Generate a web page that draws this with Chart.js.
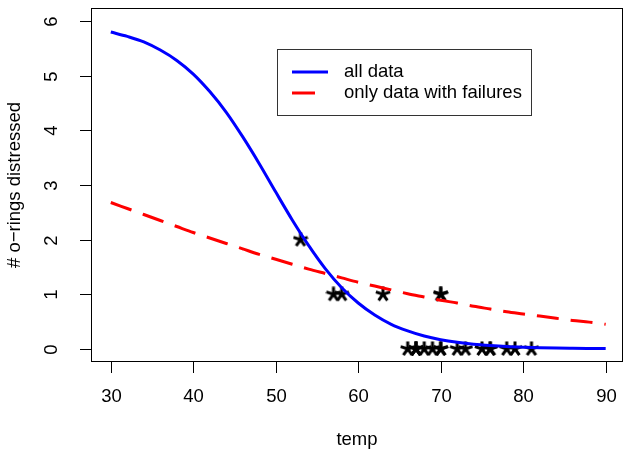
<!DOCTYPE html>
<html>
<head>
<meta charset="utf-8">
<script src="https://cdn.jsdelivr.net/npm/chart.js@4/dist/chart.umd.min.js"></script>
<style>
  html, body { margin: 0; padding: 0; background: #fff; }
</style>
</head>
<body>
<canvas id="c" width="624" height="451"></canvas>
<script>
// fitted curves, every 2 degrees
const curveTemps = [30, 32, 34, 36, 38, 40, 42, 44, 46, 48, 50, 52, 54, 56, 58, 60,
                    62, 64, 66, 68, 70, 72, 74, 76, 78, 80, 82, 84, 86, 88, 90];
const allDataFit = [5.80, 5.72, 5.62, 5.47, 5.28, 5.03, 4.71, 4.33, 3.88, 3.39, 2.87,
                    2.36, 1.89, 1.47, 1.12, 0.84, 0.62, 0.45, 0.33, 0.235, 0.168, 0.12,
                    0.085, 0.061, 0.043, 0.031, 0.022, 0.015, 0.011, 0.008, 0.005];
const failuresFit = [2.68, 2.57, 2.46, 2.35, 2.24, 2.13, 2.03, 1.93, 1.83, 1.73, 1.64,
                     1.55, 1.46, 1.38, 1.30, 1.22, 1.15, 1.08, 1.01, 0.95, 0.89, 0.84,
                     0.78, 0.73, 0.68, 0.64, 0.60, 0.56, 0.52, 0.49, 0.45];

// observed flights
const obsTemps = [53, 57, 58, 63, 70, 70, 66, 67, 67, 67, 68, 69, 70, 70, 72, 73, 75, 76, 76, 78, 79, 81];
const obsDistressed = [2, 1, 1, 1, 1, 1, 0, 0, 0, 0, 0, 0, 0, 0, 0, 0, 0, 0, 0, 0, 0, 0];

const xTicks = [30, 40, 50, 60, 70, 80, 90];
const yTicks = [0, 1, 2, 3, 4, 5, 6];

const legendLabels = ['all data', 'only data with failures'];
const FONT = '"Liberation Sans", Arial, sans-serif';

// pch="*" style marker
function asterisk(size, lw) {
    const cv = document.createElement('canvas');
    cv.width = cv.height = size;
    const g = cv.getContext('2d');
    g.strokeStyle = '#000';
    g.lineWidth = lw;
    const c = size / 2, r = size / 2 - 0.5;
    [90, 18, 162, -54, -126].forEach(a => {
        const t = a * Math.PI / 180;
        g.beginPath();
        g.moveTo(c, c);
        g.lineTo(c + r * Math.cos(t), c - r * Math.sin(t));
        g.stroke();
    });
    return cv;
}

const rAxes = {
    id: 'rAxes',
    afterDraw(chart) {
        const { ctx, chartArea: a, scales: { x, y } } = chart;
        ctx.save();
        ctx.strokeStyle = '#000';
        ctx.lineWidth = 1;
        ctx.strokeRect(a.left + 0.5, a.top + 0.5, a.right - a.left - 1, a.bottom - a.top - 1);

        ctx.fillStyle = '#000';
        ctx.font = '18.5px ' + FONT;
        ctx.textAlign = 'center';
        ctx.textBaseline = 'middle';
        xTicks.forEach(v => {
            const px = Math.round(x.getPixelForValue(v)) + 0.5;
            ctx.beginPath();
            ctx.moveTo(px, a.bottom);
            ctx.lineTo(px, a.bottom + 11);
            ctx.stroke();
            ctx.fillText(String(v), px, 397);
        });
        yTicks.forEach(v => {
            const py = Math.round(y.getPixelForValue(v)) + 0.5;
            ctx.beginPath();
            ctx.moveTo(a.left, py);
            ctx.lineTo(a.left - 11, py);
            ctx.stroke();
            ctx.save();
            ctx.translate(52, py);
            ctx.rotate(-Math.PI / 2);
            ctx.fillText(String(v), 0, 0);
            ctx.restore();
        });
        ctx.fillText('temp', (a.left + a.right) / 2, 440);
        ctx.save();
        ctx.translate(15, (a.top + a.bottom) / 2);
        ctx.rotate(-Math.PI / 2);
        ctx.fillText('# o\u2212rings distressed', 0, 0);
        ctx.restore();

        // legend box
        ctx.strokeStyle = '#333';
        ctx.strokeRect(277.5, 49.5, 254, 66);
        ctx.lineWidth = 3;
        ctx.strokeStyle = '#0000ff';
        ctx.beginPath(); ctx.moveTo(292, 72); ctx.lineTo(328, 72); ctx.stroke();
        ctx.strokeStyle = '#ff0000';
        ctx.beginPath(); ctx.moveTo(292, 93); ctx.lineTo(315, 93); ctx.stroke();
        ctx.textAlign = 'left';
        ctx.fillText(legendLabels[0], 344, 72);
        ctx.fillText(legendLabels[1], 344, 93);
        ctx.restore();
    }
};

const toXY = (xs, ys) => xs.map((v, i) => ({ x: v, y: ys[i] }));

new Chart(document.getElementById('c'), {
    type: 'scatter',
    data: {
        datasets: [
            {
                label: 'observed',
                data: toXY(obsTemps, obsDistressed),
                pointStyle: asterisk(16, 3),
                pointRadius: 8,
                order: 3
            },
            {
                label: legendLabels[0],
                type: 'line',
                data: toXY(curveTemps, allDataFit),
                borderColor: '#0000ff',
                borderWidth: 3,
                pointRadius: 0,
                cubicInterpolationMode: 'monotone',
                order: 2
            },
            {
                label: legendLabels[1],
                type: 'line',
                data: toXY(curveTemps, failuresFit),
                borderColor: '#ff0000',
                borderWidth: 3,
                borderDash: [22, 12],
                pointRadius: 0,
                cubicInterpolationMode: 'monotone',
                order: 1
            }
        ]
    },
    options: {
        responsive: false,
        animation: false,
        devicePixelRatio: 1,
        layout: { autoPadding: false, padding: { left: 91, top: 8, right: 1, bottom: 89 } },
        plugins: { legend: { display: false }, tooltip: { enabled: false } },
        scales: {
            x: { type: 'linear', min: 27.6, max: 92.1, display: false },
            y: { type: 'linear', min: -0.24, max: 6.24, display: false }
        }
    },
    plugins: [rAxes]
});
</script>
</body>
</html>
